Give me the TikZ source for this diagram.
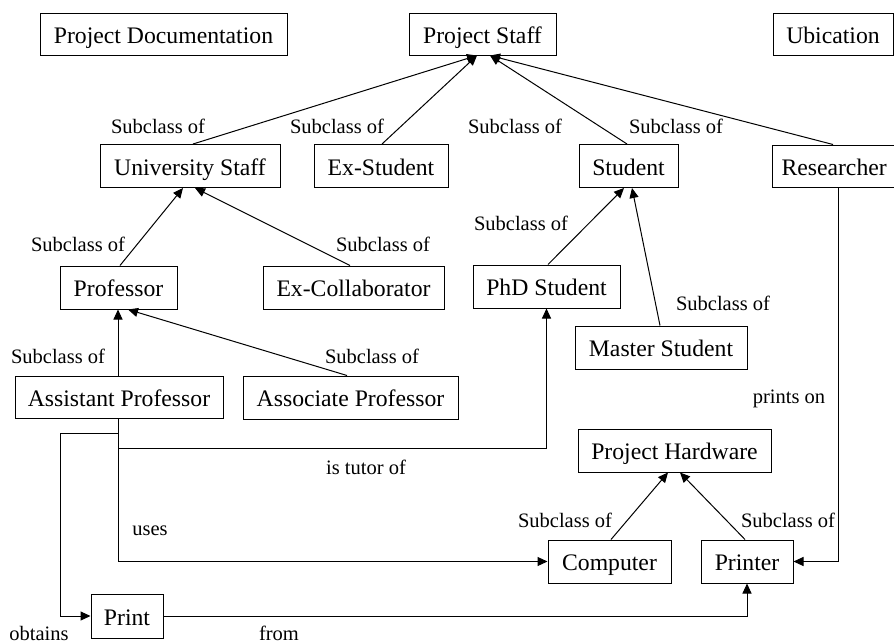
\documentclass[tikz,border=0pt]{standalone}
\usepackage{fontspec}
\setmainfont{Liberation Serif}
\usetikzlibrary{arrows.meta,calc}
\tikzset{
  box/.style={draw, line width=1pt, inner sep=0pt, text height=20pt, text depth=2pt,
    font=\fontsize{23.7}{26}\selectfont, anchor=center},
  lbl/.style={inner sep=0pt, anchor=base, font=\fontsize{20.5}{22}\selectfont},
  conn/.style={line width=1pt},
  arr/.style={conn, -{Triangle[length=10pt,width=9pt]}},
}
\begin{document}
\begin{tikzpicture}[x=1pt,y=-1pt]
\useasboundingbox (0,0) rectangle (894,643);
% boxes
\node[box, minimum width=247pt, minimum height=42pt] (doc) at (163.5,34) {Project Documentation};
\node[box, minimum width=147pt, minimum height=42pt] (staff) at (482.5,34) {Project Staff};
\node[box, minimum width=120pt, minimum height=42pt] (ubic) at (833,34) {Ubication};
\node[box, minimum width=180pt, minimum height=43pt] (ustaff) at (190,166) {University Staff};
\node[box, minimum width=134pt, minimum height=43pt] (exstud) at (381,166) {Ex-Student};
\node[box, minimum width=99pt, minimum height=43pt] (student) at (628.5,166) {Student};
\node[box, minimum width=126pt, minimum height=42pt, text width=121pt, align=left] (research) at (835,166) {\hspace{7pt}Researcher};
\node[box, minimum width=117pt, minimum height=43pt] (prof) at (118.5,287.5) {Professor};
\node[box, minimum width=181pt, minimum height=43pt] (excol) at (353.5,287.5) {Ex-Collaborator};
\node[box, minimum width=147pt, minimum height=43pt] (phd) at (546.5,286.5) {PhD Student};
\node[box, minimum width=172pt, minimum height=43pt] (master) at (661,347.5) {Master Student};
\node[box, minimum width=208pt, minimum height=42pt] (asst) at (119,397) {Assistant Professor};
\node[box, minimum width=215pt, minimum height=43pt] (assoc) at (350.5,397.5) {Associate Professor};
\node[box, minimum width=193pt, minimum height=43pt] (hw) at (674.5,450.5) {Project Hardware};
\node[box, minimum width=123pt, minimum height=43pt] (comp) at (609.5,561.5) {Computer};
\node[box, minimum width=92pt, minimum height=43pt] (printer) at (747,561.5) {Printer};
\node[box, minimum width=72pt, minimum height=44pt] (print) at (127,616) {Print};
% subclass edges
\draw[arr] ([xshift=3pt]ustaff.north) -- ([xshift=-5.5pt]staff.south);
\draw[arr] ([xshift=1pt]exstud.north) -- ([xshift=-5.5pt]staff.south);
\draw[arr] ([xshift=-1.5pt]student.north) -- ([xshift=7.5pt]staff.south);
\draw[arr] (research.north -| 833,0) -- ([xshift=7.5pt]staff.south);
\draw[arr] ([xshift=1.5pt]prof.north) -- ([xshift=-7pt]ustaff.south);
\draw[arr] ([xshift=-3.5pt]excol.north) -- ([xshift=5pt]ustaff.south);
\draw[arr] ([xshift=1.5pt]phd.north) -- ([xshift=-4.5pt]student.south);
\draw[arr] ([xshift=-1pt]master.north) -- ([xshift=3.5pt]student.south);
\draw[arr] ([xshift=-1pt]asst.north) -- ([xshift=-0.5pt]prof.south);
\draw[arr] ([xshift=-3.5pt]assoc.north) -- ([xshift=9.5pt]prof.south);
\draw[arr] ([xshift=1.5pt]comp.north) -- ([xshift=-6.5pt]hw.south);
\draw[arr] ([xshift=-2pt]printer.north) -- ([xshift=5.5pt]hw.south);
% relations
\draw[arr] ([xshift=-1pt]asst.south) -- ++(0,30) -| (phd.south);
\draw[arr] ([xshift=-1pt]asst.south) |- (comp.west);
\coordinate (obt) at ($([xshift=-1pt]asst.south)+(0,15)$);
\draw[arr] (obt) -- ++(-58,0) |- (print.west);
\draw[arr] (print.east) -| (printer.south);
\coordinate (rs) at (research.south -| 838,0);
\draw[arr] (rs) |- (printer.east);
% labels
\node[lbl] (l1) at (158,133) {Subclass of};
\node[lbl] (l2) at (337,133) {Subclass of};
\node[lbl] (l3) at (515,133) {Subclass of};
\node[lbl] (l4) at (676,133) {Subclass of};
\node[lbl] (l5) at (78,251) {Subclass of};
\node[lbl] (l6) at (383,251) {Subclass of};
\node[lbl] (l7) at (521,230) {Subclass of};
\node[lbl] (l8) at (723,310) {Subclass of};
\node[lbl] (l9) at (58,363) {Subclass of};
\node[lbl] (l10) at (372,363) {Subclass of};
\node[lbl] (l11) at (565,527) {Subclass of};
\node[lbl] (l12) at (788,527) {Subclass of};
\node[lbl] (tut) at (366,474) {is tutor of};
\node[lbl] (uses) at (150,535) {uses};
\node[lbl] (obtl) at (39,640) {obtains};
\node[lbl] (froml) at (279,640) {from};
\node[lbl] (prl) at (789,403) {prints on};
\end{tikzpicture}
\end{document}
